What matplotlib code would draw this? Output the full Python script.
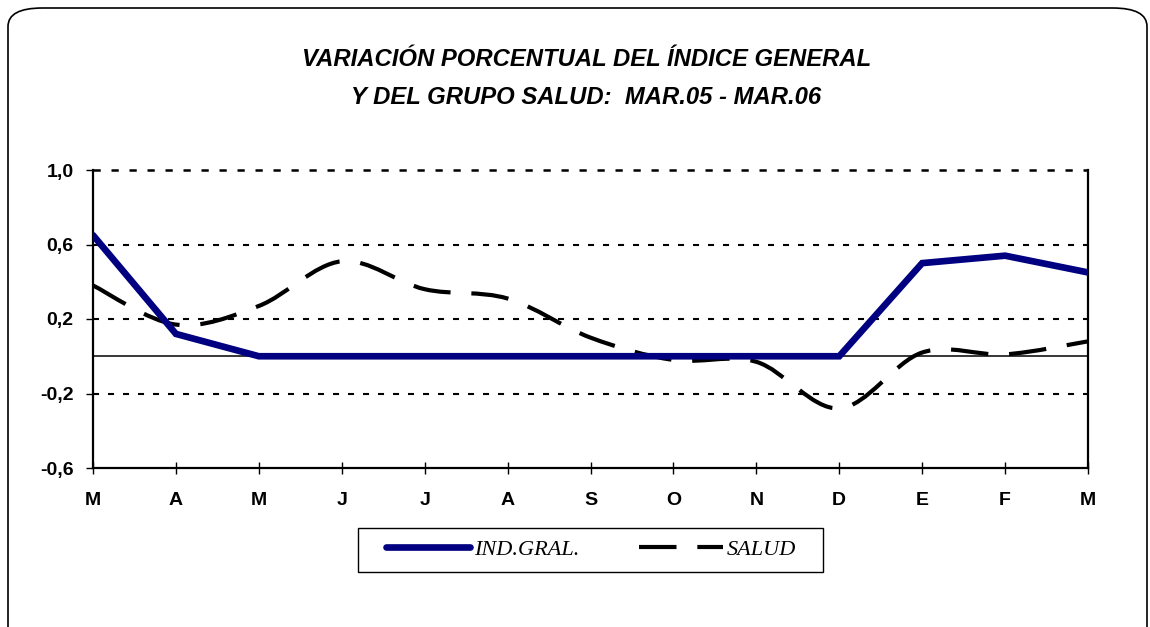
import matplotlib
matplotlib.use("Agg")
import matplotlib.pyplot as plt
from matplotlib.path import Path
from matplotlib.patches import PathPatch, FancyBboxPatch, Rectangle
from matplotlib.lines import Line2D

months = ["M", "A", "M", "J", "J", "A", "S", "O", "N", "D", "E", "F", "M"]
ind_gral = [0.65, 0.12, 0.0, 0.0, 0.0, 0.0, 0.0, 0.0, 0.0, 0.0, 0.50, 0.54, 0.45]
salud = [0.38, 0.17, 0.27, 0.51, 0.36, 0.31, 0.10, -0.02, -0.03, -0.28, 0.02, 0.01, 0.08]
yticks = [1.0, 0.6, 0.2, -0.2, -0.6]
ytick_labels = ["1,0", "0,6", "0,2", "-0,2", "-0,6"]

navy = "#000080"
grid_style = (0, (2.9, 4.3))


def smooth_path(ys):
    # Excel style smoothed line: cubic bezier, tangents from neighbours
    xs = list(range(len(ys)))
    pts = list(zip(xs, ys))
    verts = [pts[0]]
    codes = [Path.MOVETO]
    n = len(pts)
    for i in range(n - 1):
        p0 = pts[max(i - 1, 0)]
        p1 = pts[i]
        p2 = pts[i + 1]
        p3 = pts[min(i + 2, n - 1)]
        c1 = (p1[0] + (p2[0] - p0[0]) / 6, p1[1] + (p2[1] - p0[1]) / 6)
        c2 = (p2[0] - (p3[0] - p1[0]) / 6, p2[1] - (p3[1] - p1[1]) / 6)
        verts += [c1, c2, p2]
        codes += [Path.CURVE4, Path.CURVE4, Path.CURVE4]
    return Path(verts, codes)


fig = plt.figure(figsize=(11.5, 6.27), dpi=100)
ax = fig.add_axes([93 / 1150, 1 - 468 / 627, 995 / 1150, 298 / 627])

# rounded outer border
fig.patches.append(FancyBboxPatch((8 / 1150, -0.05), 1139 / 1150, 1 - 8 / 627 + 0.05,
                                  boxstyle="round,pad=0,rounding_size=0.03",
                                  transform=fig.transFigure, fill=False,
                                  edgecolor="black", linewidth=1.2,
                                  mutation_aspect=627 / 1150 * 1.8))

x = list(range(len(months)))

for yv in [0.6, 0.2, -0.2]:
    ax.axhline(yv, color="black", linewidth=1.5, linestyle=grid_style, zorder=1)
ax.axhline(1.0, color="black", linewidth=1.8, linestyle=grid_style, zorder=1, clip_on=False)
ax.axhline(0.0, color="black", linewidth=1.1, zorder=1)

ax.add_patch(PathPatch(smooth_path(salud), fill=False, edgecolor="black",
                       linewidth=3, linestyle=(0, (9, 5)), zorder=2,
                       capstyle="butt"))
ax.plot(x, ind_gral, color=navy, linewidth=4.8, zorder=3, solid_capstyle="round",
        solid_joinstyle="miter")

ax.set_xlim(0, len(months) - 1)
ax.set_ylim(-0.6, 1.0)
ax.set_yticks(yticks)
ax.set_yticklabels(ytick_labels, fontsize=14, fontweight="bold", family="Liberation Sans")
ax.set_xticks(x)
ax.set_xticklabels(months, fontsize=14, fontweight="bold", family="Liberation Sans")
ax.tick_params(axis="y", direction="out", length=5, width=1, pad=9)
ax.tick_params(axis="x", direction="inout", length=9, width=1, pad=13)

ax.spines["top"].set_visible(False)
for s in ["left", "right", "bottom"]:
    ax.spines[s].set_linewidth(1.6)
    ax.spines[s].set_color("black")

fig.text(0.51, 1 - 60 / 627, "VARIACIÓN PORCENTUAL DEL ÍNDICE GENERAL", ha="center", va="center",
         fontsize=17.2, style="italic", fontweight="bold", family="Liberation Sans")
fig.text(0.51, 1 - 98 / 627, "Y DEL GRUPO SALUD:  MAR.05 - MAR.06", ha="center", va="center",
         fontsize=17.2, style="italic", fontweight="bold", family="Liberation Sans")

# legend box
fig.patches.append(Rectangle((358 / 1150, 1 - 572 / 627), 465 / 1150, 44 / 627,
                             transform=fig.transFigure, fill=False,
                             edgecolor="black", linewidth=1.0))
handles = [Line2D([], [], color=navy, linewidth=4.8, solid_capstyle="round"),
           Line2D([], [], color="black", linewidth=3, linestyle=(0, (9, 5)))]
leg = ax.legend(handles, ["IND.GRAL.", "SALUD"], loc="center",
                bbox_to_anchor=(591 / 1150, 1 - 550 / 627), bbox_transform=fig.transFigure,
                ncol=2, frameon=False,
                handlelength=3.8, handletextpad=0.15, columnspacing=2.7,
                borderpad=0.5, borderaxespad=0,
                prop={"family": "Liberation Serif", "style": "italic", "size": 16})

fig.savefig("out.png", dpi=100)
